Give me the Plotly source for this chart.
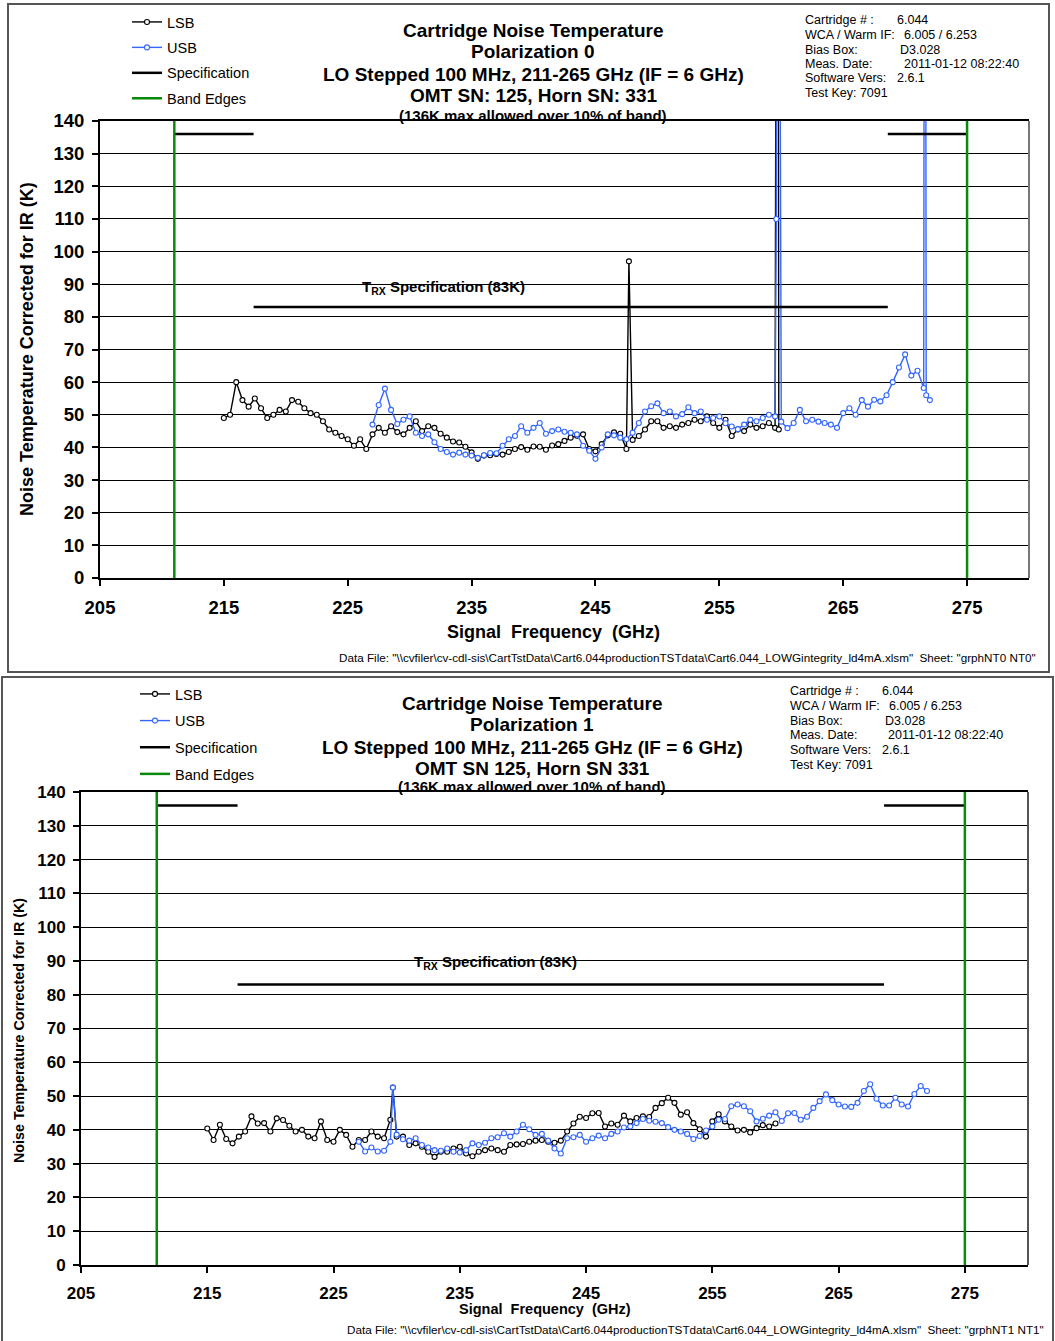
import numpy as np
import plotly.graph_objects as go

W, H = 1055, 1341
FONT = "Liberation Sans, Arial, sans-serif"
STEP = 0.5  # GHz between listed samples

# ---------------- Polarization 0 ----------------
pol0_lsb_start = 215.0
pol0_lsb = [49.0, 50.0, 60.0, 54.5, 52.5, 55.0, 52.0, 49.0, 50.0, 51.5,
            51.0, 54.5, 54.0, 52.0, 50.5, 50.0, 48.0, 45.5, 44.5, 43.5,
            42.5, 40.5, 42.5, 39.5, 44.0, 46.0, 44.5, 46.5, 44.7, 44.0,
            46.0, 48.0, 45.0, 46.5, 46.0, 44.2, 43.0, 41.8, 41.5, 40.2,
            38.5, 36.5, 37.5, 37.6, 38.0, 37.8, 38.6, 39.5, 40.1, 39.3,
            40.3, 40.2, 39.3, 40.6, 41.0, 42.0, 43.0, 43.6, 44.0, 39.5,
            38.8, 41.0, 43.7, 44.6, 44.2, 39.5, 42.3, 43.5, 45.5, 48.0,
            48.0, 46.0, 46.5, 46.0, 47.0, 47.5, 48.5, 48.0, 49.5, 47.5,
            46.0, 48.5, 43.5, 45.5, 45.0, 47.0, 46.0, 46.5, 47.5, 46.0]
pol0_lsb_glitch_f = [247.7, 259.7, 259.8]
pol0_lsb_glitch_t = [97.0, 400.0, 45.5]

pol0_usb_start = 227.0
pol0_usb = [47.0, 53.0, 58.0, 51.5, 47.2, 48.5, 49.5, 44.5, 43.5, 44.0,
            41.6, 39.5, 38.6, 37.8, 38.4, 37.8, 37.5, 36.8, 37.6, 38.3,
            38.2, 40.5, 42.5, 43.5, 46.5, 44.5, 46.0, 47.5, 44.2, 45.0,
            45.5, 44.8, 44.5, 44.0, 40.5, 39.0, 36.5, 40.0, 44.0, 43.7,
            43.0, 42.5, 44.5, 47.5, 51.0, 52.6, 53.5, 50.5, 51.0, 49.5,
            50.2, 52.3, 50.5, 51.0, 48.5, 49.0, 49.5, 47.4, 46.4, 45.6,
            47.0, 48.5, 48.0, 49.0, 50.0, 49.5, 47.9, 45.9, 47.5, 51.5,
            48.0, 48.5, 47.9, 47.5, 47.0, 46.0, 50.5, 52.0, 50.0, 54.5,
            52.5, 54.6, 54.1, 56.0, 60.0, 64.5, 68.5, 62.0, 63.5, 58.2,
            54.5]
pol0_usb_glitch_f = [259.6, 259.7, 271.6, 271.7]
pol0_usb_glitch_t = [110.0, 400.0, 400.0, 56.0]

# ---------------- Polarization 1 ----------------
pol1_lsb_start = 215.0
pol1_lsb = [40.4, 37.0, 41.5, 37.3, 36.0, 38.0, 39.5, 44.0, 41.9, 42.0,
            39.5, 43.4, 42.9, 41.2, 39.5, 40.0, 38.0, 37.5, 42.5, 37.0,
            36.5, 40.0, 38.5, 35.0, 37.0, 37.0, 39.5, 38.0, 37.5, 43.0,
            38.0, 38.0, 35.5, 36.0, 35.0, 33.5, 32.0, 33.5, 33.5, 34.5,
            35.0, 33.0, 32.2, 33.5, 34.0, 34.5, 34.0, 33.5, 35.5, 35.7,
            35.8, 36.5, 36.8, 37.0, 36.5, 36.2, 36.8, 39.5, 41.9, 43.9,
            43.5, 44.9, 45.0, 41.0, 41.9, 41.5, 44.2, 42.5, 43.5, 44.0,
            43.8, 46.5, 47.9, 49.5, 48.0, 44.5, 45.2, 42.0, 40.2, 38.0,
            42.5, 44.6, 42.5, 41.0, 39.8, 40.0, 39.2, 40.5, 41.4, 41.0,
            41.9]
pol1_lsb_glitch_f = [229.7]
pol1_lsb_glitch_t = [52.5]

pol1_usb_start = 227.0
pol1_usb = [36.5, 33.6, 34.8, 33.6, 33.8, 36.5, 38.6, 37.2, 36.8, 37.5,
            35.5, 34.8, 34.0, 33.8, 34.5, 33.5, 33.3, 34.0, 36.0, 35.5,
            36.2, 37.5, 37.8, 39.0, 38.0, 39.5, 41.5, 40.2, 38.5, 38.8,
            36.8, 34.5, 33.0, 37.5, 37.8, 38.5, 36.5, 37.5, 38.3, 37.5,
            38.8, 39.5, 40.7, 41.0, 42.0, 43.2, 42.7, 42.4, 42.0, 40.8,
            40.0, 39.5, 38.8, 37.3, 38.2, 39.8, 41.0, 43.0, 43.2, 47.0,
            47.5, 47.0, 45.5, 42.5, 43.3, 44.2, 45.2, 42.6, 44.9, 45.0,
            43.0, 43.9, 46.5, 48.5, 50.5, 48.8, 47.5, 46.9, 46.8, 48.0,
            51.5, 53.5, 49.2, 47.2, 47.2, 49.5, 47.5, 46.9, 50.6, 53.0,
            51.5]
pol1_usb_glitch_f = [229.7]
pol1_usb_glitch_t = [52.5]

# Specification: 136 K allowed over the outer 10% of the band, 83 K elsewhere
spec_f = [211.0, 217.4, None, 217.4, 268.6, None, 268.6, 275.0]
spec_t = [136, 136, None, 83, 83, None, 136, 136]
band_edge_f = [211.0, 211.0, None, 275.0, 275.0]
band_edge_t = [0, 140, None, 0, 140]

x_ticks = [205, 215, 225, 235, 245, 255, 265, 275]
y_ticks = list(range(0, 141, 10))

info_labels = ["Cartridge # :", "WCA / Warm IF:", "Bias Box:", "Meas. Date:",
               "Software Vers:", "Test Key: 7091"]
info_values = ["6.044", "6.005 / 6.253", "D3.028", "2011-01-12 08:22:40", "2.6.1", ""]

titles = [
    ["Cartridge Noise Temperature", "Polarization 0",
     "LO Stepped 100 MHz, 211-265 GHz (IF = 6 GHz)", "OMT SN: 125, Horn SN: 331",
     "(136K max allowed over 10% of band)"],
    ["Cartridge Noise Temperature", "Polarization 1",
     "LO Stepped 100 MHz, 211-265 GHz (IF = 6 GHz)", "OMT SN 125, Horn SN 331",
     "(136K max allowed over 10% of band)"],
]
data_files = [
    r'Data File: "\\cvfiler\cv-cdl-sis\CartTstData\Cart6.044productionTSTdata\Cart6.044_LOWGintegrity_ld4mA.xlsm"  Sheet: "grphNT0 NT0"',
    r'Data File: "\\cvfiler\cv-cdl-sis\CartTstData\Cart6.044productionTSTdata\Cart6.044_LOWGintegrity_ld4mA.xlsm"  Sheet: "grphNT1 NT1"',
]


def sweep(start, values, glitch_f, glitch_t):
    f = start + STEP * np.arange(len(values))
    f = np.concatenate([f, glitch_f])
    t = np.concatenate([np.asarray(values, float), glitch_t])
    order = np.argsort(f, kind="stable")
    return f[order], t[order]


def px(x):  # horizontal pixel -> paper
    return x / W


def py(y):  # vertical pixel -> paper
    return 1 - y / H


BLUE = "#3366ff"
GREEN = "#0a8a0a"

# geometry of the two panels (pixels)
panels = [
    dict(plot=(100, 1029, 121, 578), tick=18.5, ytitle=18, xtitle=18,
         title_x=533, title_y=[31, 52, 75, 96, 115], title_size=[19, 19, 19, 19, 15],
         leg=(127, 6), leg_gap=3.6, info_x=803, val_x=[895, 902, 898, 902, 895, 0],
         info_y=[20, 35, 50, 64, 78, 93], yt=(27, 349), xt=(553, 632),
         df=(1038, 657), spec_txt=(232.7, 89), box=(8, 1049, 4, 672),
         frame_right="#777777"),
    dict(plot=(81, 1028, 792, 1265), tick=17, ytitle=14.3, xtitle=14.5,
         title_x=532, title_y=[703, 724, 747, 768, 786], title_size=[19, 19, 19, 19, 15],
         leg=(135, 678), leg_gap=4.8, info_x=788, val_x=[880, 887, 883, 886, 880, 0],
         info_y=[691, 706, 721, 735, 750, 765], yt=(19, 1031), xt=(545, 1309),
         df=(1046, 1329), spec_txt=(237.8, 89.5), box=(2, 1053, 677, 1345),
         frame_right="#555555"),
]

series = [
    (sweep(pol0_lsb_start, pol0_lsb, pol0_lsb_glitch_f, pol0_lsb_glitch_t),
     sweep(pol0_usb_start, pol0_usb, pol0_usb_glitch_f, pol0_usb_glitch_t)),
    (sweep(pol1_lsb_start, pol1_lsb, pol1_lsb_glitch_f, pol1_lsb_glitch_t),
     sweep(pol1_usb_start, pol1_usb, pol1_usb_glitch_f, pol1_usb_glitch_t)),
]

fig = go.Figure()
annotations = []
shapes = []
layout = {}

for i, (pn, (lsb, usb)) in enumerate(zip(panels, series)):
    xa = "x" if i == 0 else "x2"
    ya = "y" if i == 0 else "y2"
    lg = "legend" if i == 0 else "legend2"
    g = f"p{i}"

    fig.add_trace(go.Scatter(
        x=lsb[0], y=lsb[1], name="LSB", mode="lines+markers", xaxis=xa, yaxis=ya,
        legend=lg, legendgroup=g + "lsb",
        line=dict(color="black", width=1.4),
        marker=dict(symbol="circle", size=5, color="white",
                    line=dict(color="black", width=1.1))))
    fig.add_trace(go.Scatter(
        x=usb[0], y=usb[1], name="USB", mode="lines+markers", xaxis=xa, yaxis=ya,
        legend=lg, legendgroup=g + "usb",
        line=dict(color=BLUE, width=1.4),
        marker=dict(symbol="circle", size=5, color="white",
                    line=dict(color=BLUE, width=1.1))))
    fig.add_trace(go.Scatter(
        x=spec_f, y=spec_t, name="Specification", mode="lines", xaxis=xa, yaxis=ya,
        legend=lg, legendgroup=g + "spec", line=dict(color="black", width=2.5)))
    fig.add_trace(go.Scatter(
        x=band_edge_f, y=band_edge_t, name="Band Edges", mode="lines", xaxis=xa,
        yaxis=ya, legend=lg, legendgroup=g + "edge", line=dict(color=GREEN, width=2.5)))

    x0, x1, y0, y1 = pn["plot"]
    tickfont = dict(family=FONT, size=pn["tick"], color="black", weight="bold")
    layout["xaxis" if i == 0 else "xaxis2"] = dict(
        domain=[px(x0), px(x1)], range=[205, 280], anchor=ya, automargin=False,
        tickvals=x_ticks, ticks="outside", ticklen=6, tickwidth=1.5, tickcolor="black",
        ticklabelstandoff=6, tickfont=tickfont, showgrid=False, zeroline=False,
        showline=True, linecolor="black", linewidth=2, mirror=True)
    layout["yaxis" if i == 0 else "yaxis2"] = dict(
        domain=[py(y1), py(y0)], range=[0, 140], anchor=xa, automargin=False,
        tickvals=y_ticks, ticks="outside", ticklen=6, tickwidth=1.5, tickcolor="black",
        ticklabelstandoff=4, tickfont=tickfont, showgrid=True, gridcolor="black",
        gridwidth=1, zeroline=False, showline=True, linecolor="black", linewidth=2,
        mirror=False)
    layout[lg] = dict(
        x=px(pn["leg"][0]), y=py(pn["leg"][1]), xanchor="left", yanchor="top",
        bgcolor="rgba(0,0,0,0)", borderwidth=0, tracegroupgap=pn["leg_gap"],
        itemwidth=30, font=dict(family=FONT, size=14.5, color="black"))

    # right-hand edge of the plotting frame
    shapes.append(dict(type="line", xref="paper", yref="paper",
                       x0=px(x1), x1=px(x1), y0=py(y1), y1=py(y0),
                       line=dict(color=pn["frame_right"], width=2)))

    # title block
    for txt, ty, ts in zip(titles[i], pn["title_y"], pn["title_size"]):
        annotations.append(dict(
            text=txt, x=px(pn["title_x"]), y=py(ty), xref="paper", yref="paper",
            xanchor="center", yanchor="middle", showarrow=False,
            font=dict(family=FONT, size=ts, color="black", weight="bold")))

    # measurement info block
    for lab, val, vx, iy in zip(info_labels, info_values, pn["val_x"], pn["info_y"]):
        annotations.append(dict(
            text=lab, x=px(pn["info_x"]), y=py(iy), xref="paper", yref="paper",
            xanchor="left", yanchor="middle", showarrow=False,
            font=dict(family=FONT, size=12.5, color="black")))
        if val:
            annotations.append(dict(
                text=val, x=px(vx), y=py(iy), xref="paper", yref="paper",
                xanchor="left", yanchor="middle", showarrow=False,
                font=dict(family=FONT, size=12.5, color="black")))

    # axis titles
    annotations.append(dict(
        text="Noise Temperature Corrected for IR (K)", textangle=-90,
        x=px(pn["yt"][0]), y=py(pn["yt"][1]), xref="paper", yref="paper",
        xanchor="center", yanchor="middle", showarrow=False,
        font=dict(family=FONT, size=pn["ytitle"], color="black", weight="bold")))
    annotations.append(dict(
        text="Signal  Frequency  (GHz)", x=px(pn["xt"][0]), y=py(pn["xt"][1]),
        xref="paper", yref="paper", xanchor="center", yanchor="middle",
        showarrow=False,
        font=dict(family=FONT, size=pn["xtitle"], color="black", weight="bold")))

    # spec label
    annotations.append(dict(
        text="T<sub>RX</sub> Specification (83K)", x=pn["spec_txt"][0],
        y=pn["spec_txt"][1], xref=xa, yref=ya, xanchor="center", yanchor="middle",
        showarrow=False, font=dict(family=FONT, size=15, color="black", weight="bold")))

    # data source line
    annotations.append(dict(
        text=data_files[i], x=px(pn["df"][0]), y=py(pn["df"][1]), xref="paper",
        yref="paper", xanchor="right", yanchor="middle", showarrow=False,
        font=dict(family="Liberation Sans Narrow, Arial Narrow, " + FONT, size=11.7,
                  color="black")))

    # panel frame
    bx0, bx1, by0, by1 = pn["box"]
    shapes.append(dict(type="rect", xref="paper", yref="paper",
                       x0=px(bx0), x1=px(bx1), y0=py(by1), y1=py(by0),
                       line=dict(color="#555555", width=2), fillcolor="rgba(0,0,0,0)",
                       layer="below"))

fig.update_layout(
    template="none",
    width=W, height=H, margin=dict(l=0, r=0, t=0, b=0, autoexpand=False),
    paper_bgcolor="white", plot_bgcolor="white",
    font=dict(family=FONT, color="black"),
    annotations=annotations, shapes=shapes, hovermode=False,
    **layout)

fig.write_html("out.html", config={"displayModeBar": False},
               post_script="document.body.style.margin='0';"
                           "document.body.style.overflow='hidden';")
